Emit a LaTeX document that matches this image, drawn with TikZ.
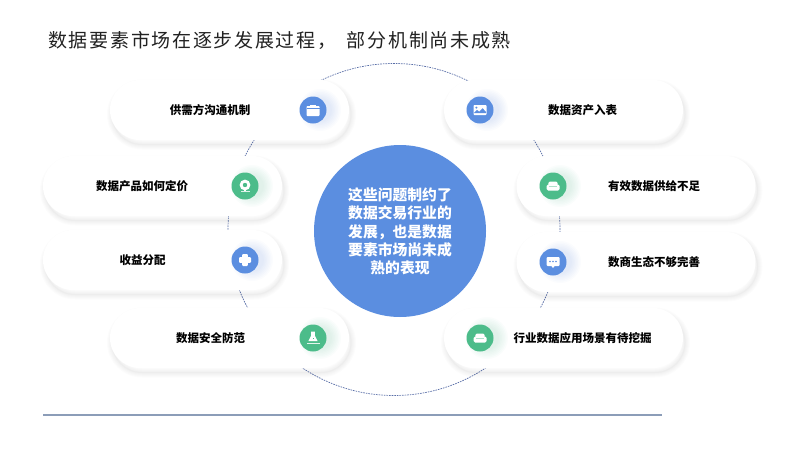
\documentclass[tikz,border=0pt]{standalone}
\usepackage{fontspec}
\setmainfont{Noto Sans CJK SC}
\newfontfamily\titlefont[LetterSpace=9]{Noto Sans CJK SC}
\definecolor{iblue}{HTML}{5B8EE0}
\definecolor{igreen}{HTML}{4CBC8A}
\definecolor{rulecol}{HTML}{8C9DB8}
\definecolor{dashcol}{HTML}{5A6FA8}
\definecolor{titlecol}{HTML}{222222}
\tikzset{
  x=1pt,y=-1pt,
  pillbox/.style={rounded corners=29.9pt,fill=white,minimum width=239pt,minimum height=60pt,inner sep=0pt,draw=none},
  pilltext/.style={font=\bfseries\fontsize{11.5}{13}\selectfont,text=black,inner sep=0pt},
  iconbox/.style={circle,minimum size=27pt,inner sep=0pt,fill=#1},
  wht/.style={fill=white,draw=none},
}
% soft shadow of a pill centred at #1,#2, falling to the lower right
\newcommand{\pillshadow}[2]{%
  \foreach \w in {10,8,6,4,2,1}{%
    \draw[black,opacity=0.012,line width=\w pt,rounded corners=29.9pt]
      ({#1-119.5+2},{#2-30+4.5}) rectangle ({#1+119.5+2},{#2+30+4.5});
  }%
}
% glow to the right of an icon
\newcommand{\iconglow}[3]{%
  \foreach \r in {21,19.5,18,16.5,15,13.5,12}{%
    \fill[#3,opacity=0.022] ({#1+7},{#2}) circle (\r pt);
  }%
}
\begin{document}
\begin{tikzpicture}
\useasboundingbox (0,0) rectangle (800,450);
\fill[white] (0,0) rectangle (800,450);
% dashed ring
\coordinate (ringc) at (394,229.5);
\draw[dashcol,line width=0.7pt,dash pattern=on 1.6pt off 1pt] (ringc) circle (166pt);
% rule
\coordinate (ruleA) at (43,415);
\coordinate (ruleB) at (662,415);
\draw[rulecol,line width=1.5pt] (ruleA) -- (ruleB);
% title
\node[anchor=west,inner sep=0pt,text=titlecol,font=\titlefont\fontsize{19}{22}\selectfont] (title) at (48,40) {数据要素市场在逐步发展过程，\hspace{10.5pt}部分机制尚未成熟};
% pills
\foreach \cx/\cy/\nm in {229.5/110/a,162.5/186/b,162.5/260/c,229.5/338/d,563.5/110/e,636/186/f,636/262/g,563.5/338/h}{
  \pillshadow{\cx}{\cy}
  \node[pillbox] (\nm) at (\cx,\cy) {};
}
% glows
\iconglow{313}{110}{iblue}
\iconglow{245}{186}{igreen}
\iconglow{245}{260}{iblue}
\iconglow{313}{338}{igreen}
\iconglow{480}{110}{iblue}
\iconglow{553}{186}{igreen}
\iconglow{553}{262}{iblue}
\iconglow{480}{338}{igreen}
% labels
\node[pilltext] (la) at (210,110.5) {供需方沟通机制};
\node[pilltext] (lb) at (142,186.5) {数据产品如何定价};
\node[pilltext] (lc) at (142.5,260) {收益分配};
\node[pilltext] (ld) at (210.5,338) {数据安全防范};
\node[pilltext] (le) at (582.5,110) {数据资产入表};
\node[pilltext] (lf) at (654,186) {有效数据供给不足};
\node[pilltext] (lg) at (654,262) {数商生态不够完善};
\node[pilltext] (lh) at (582.5,338) {行业数据应用场景有待挖掘};
% icons
\node[iconbox=iblue] (ia) at (313,110) {};
\node[iconbox=igreen] (ib) at (245,186) {};
\node[iconbox=iblue] (ic) at (245,260) {};
\node[iconbox=igreen] (id) at (313,338) {};
\node[iconbox=iblue] (ie) at (480,110) {};
\node[iconbox=igreen] (if) at (553,186) {};
\node[iconbox=iblue] (ig) at (553,262) {};
\node[iconbox=igreen] (ih) at (480,338) {};
% icon a: case
\begin{scope}[shift={(313,110.5)}]
  \fill[wht,rounded corners=0.8pt] (-6.5,-4.5) rectangle (6.5,5.5);
  \fill[wht] (-3,-5.6) rectangle (3,-4);
  \draw[iblue,line width=0.4pt] (-6.5,-2) -- (6.5,-2);
\end{scope}
% icon b: webcam
\begin{scope}[shift={(245,186)}]
  \fill[wht] (0,-1) circle (5.4pt);
  \fill[igreen] (0,-1) circle (2.2pt);
  \fill[wht] (-1.2,3) rectangle (1.2,5.2);
  \fill[wht,opacity=0.8] (-4.5,5.2) rectangle (4.5,5.7);
\end{scope}
% icon c: plus
\begin{scope}[shift={(245,260)}]
  \fill[wht,rounded corners=1pt] (-2.8,-6) rectangle (2.8,6);
  \fill[wht,rounded corners=1pt] (-6,-2.8) rectangle (6,2.8);
\end{scope}
% icon d: flask
\begin{scope}[shift={(313,338)}]
  \fill[wht] (-1.8,-6.5) -- (1.8,-6.5) -- (1.8,-2.5) -- (4.6,3) -- (-4.6,3) -- (-1.8,-2.5) -- cycle;
  \fill[igreen] (0.2,0) rectangle (1.4,1.2);
  \fill[wht,opacity=0.85] (-6.5,5.4) rectangle (6.5,5.9);
\end{scope}
% icon e: picture
\begin{scope}[shift={(480,110)}]
  \fill[wht,rounded corners=0.8pt] (-6.5,-5) rectangle (6.5,5);
  \fill[iblue] (-3.6,-2.4) circle (1.1pt);
  \fill[iblue] (-6,3) -- (-3,-0.2) -- (-0.8,1.8) -- (2.6,-1.8) -- (6,2) -- (6,3.2) -- (-6,3.2) -- cycle;
\end{scope}
% icons f,h: sofa
\foreach \sx/\sy in {553/186,480/338}{
\begin{scope}[shift={(\sx,\sy)}]
  \fill[wht,rounded corners=1.5pt] (-6.5,-1.5) rectangle (6.5,4.5);
  \fill[wht,rounded corners=1.5pt] (-4.6,-4.5) rectangle (4.6,1);
  \draw[igreen!45!white,line width=0.5pt] (-4.2,0.6) -- (4.2,0.6);
\end{scope}
}
% icon g: chat
\begin{scope}[shift={(553,262)}]
  \fill[wht,rounded corners=1pt] (-6.5,-5) rectangle (6.5,4);
  \fill[wht] (-2,3.5) -- (2,3.5) -- (0,6) -- cycle;
  \foreach \d in {-3,0,3} \fill[iblue] (\d,-0.5) circle (0.8pt);
\end{scope}
% centre circle
\node[circle,fill=iblue,minimum size=172pt,inner sep=0pt] (hub) at (400,231) {};
\node[text=white,font=\bfseries\fontsize{14.8}{18.3}\selectfont,align=center,inner sep=0pt] (hubt) at (400,231.5) {这些问题制约了\\数据交易行业的\\发展，也是数据\\要素市场尚未成\\熟的表现};
\end{tikzpicture}
\end{document}
